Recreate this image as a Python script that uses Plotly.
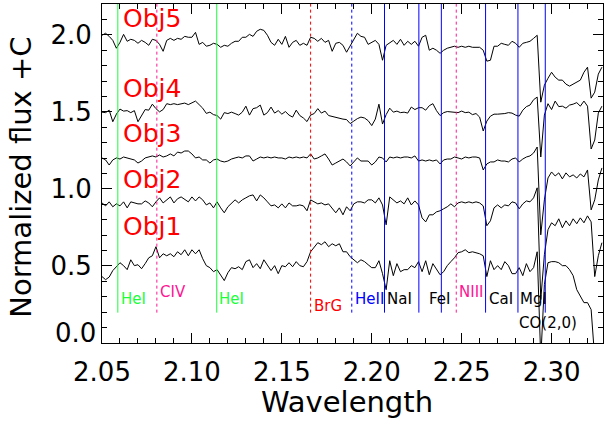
import plotly.graph_objects as go

wavelength = [2.050, 2.052, 2.054, 2.056, 2.058, 2.060, 2.062, 2.064, 2.066, 2.068,
              2.070, 2.072, 2.074, 2.076, 2.078, 2.080, 2.082, 2.084, 2.086, 2.088,
              2.090, 2.092, 2.094, 2.096, 2.098, 2.100, 2.102, 2.104, 2.106, 2.108,
              2.110, 2.112, 2.114, 2.116, 2.118, 2.120, 2.122, 2.124, 2.126, 2.128,
              2.130, 2.132, 2.134, 2.136, 2.138, 2.140, 2.142, 2.144, 2.146, 2.148,
              2.150, 2.152, 2.154, 2.156, 2.158, 2.160, 2.162, 2.164, 2.166, 2.168,
              2.170, 2.172, 2.174, 2.176, 2.178, 2.180, 2.182, 2.184, 2.186, 2.188,
              2.190, 2.192, 2.194, 2.196, 2.198, 2.200, 2.202, 2.204, 2.206, 2.208,
              2.210, 2.212, 2.214, 2.216, 2.218, 2.220, 2.222, 2.224, 2.226, 2.228,
              2.230, 2.232, 2.234, 2.236, 2.238, 2.240, 2.242, 2.244, 2.246, 2.248,
              2.250, 2.252, 2.254, 2.256, 2.258, 2.260, 2.262, 2.264, 2.266, 2.268,
              2.270, 2.272, 2.274, 2.276, 2.278, 2.280, 2.282, 2.284, 2.286, 2.288,
              2.290, 2.292, 2.294, 2.296, 2.298, 2.300, 2.302, 2.304, 2.306, 2.308,
              2.310, 2.312, 2.314, 2.316, 2.318, 2.320, 2.322, 2.324, 2.326, 2.328]

obj1 = [0.431, 0.411, 0.428, 0.470, 0.495, 0.521, 0.502, 0.476, 0.540, 0.502,
        0.508, 0.482, 0.515, 0.553, 0.566, 0.625, 0.553, 0.579, 0.566, 0.579,
        0.560, 0.592, 0.573, 0.605, 0.566, 0.605, 0.579, 0.605, 0.547, 0.502,
        0.489, 0.463, 0.476, 0.437, 0.405, 0.456, 0.489, 0.482, 0.495, 0.476,
        0.528, 0.540, 0.489, 0.515, 0.482, 0.540, 0.508, 0.470, 0.502, 0.450,
        0.502, 0.495, 0.521, 0.495, 0.528, 0.502, 0.495, 0.528, 0.592, 0.625,
        0.651, 0.638, 0.657, 0.625, 0.644, 0.631, 0.644, 0.592, 0.592, 0.560,
        0.540, 0.521, 0.540, 0.528, 0.508, 0.489, 0.489, 0.534, 0.450, 0.346,
        0.534, 0.437, 0.515, 0.463, 0.476, 0.476, 0.502, 0.489, 0.528, 0.463,
        0.534, 0.443, 0.515, 0.476, 0.443, 0.463, 0.502, 0.528, 0.553, 0.586,
        0.592, 0.605, 0.586, 0.592, 0.586, 0.579, 0.566, 0.431, 0.534, 0.476,
        0.502, 0.476, 0.528, 0.502, 0.450, 0.450, 0.489, 0.437, 0.515, 0.463,
        0.489, 0.592, -0.100, 0.379, 0.521, 0.528, 0.528, 0.521, 0.502, 0.502,
        0.476, 0.437, 0.346, 0.301, 0.262, 0.262, 0.217, -0.100, -0.100, -0.100]

obj2 = [0.909, 0.890, 0.916, 0.884, 0.903, 0.890, 0.916, 0.877, 0.916, 0.909,
        0.903, 0.903, 0.922, 0.909, 0.884, 0.916, 0.942, 0.909, 0.929, 0.948,
        0.909, 0.936, 0.948, 0.929, 0.916, 0.948, 0.922, 0.948, 0.929, 0.896,
        0.909, 0.877, 0.916, 0.877, 0.845, 0.884, 0.909, 0.929, 0.909, 0.929,
        0.942, 0.955, 0.961, 0.922, 0.961, 0.942, 0.916, 0.890, 0.896, 0.877,
        0.903, 0.877, 0.909, 0.890, 0.890, 0.896, 0.890, 0.858, 0.929, 0.916,
        0.903, 0.909, 0.896, 0.903, 0.871, 0.845, 0.877, 0.832, 0.884, 0.858,
        0.903, 0.916, 0.916, 0.909, 0.929, 0.929, 0.909, 0.942, 0.896, 0.767,
        0.948, 0.929, 0.909, 0.922, 0.903, 0.942, 0.896, 0.922, 0.896, 0.812,
        0.786, 0.832, 0.832, 0.851, 0.858, 0.871, 0.884, 0.903, 0.884, 0.909,
        0.916, 0.909, 0.916, 0.909, 0.916, 0.909, 0.890, 0.761, 0.793, 0.877,
        0.896, 0.877, 0.896, 0.890, 0.916, 0.909, 0.871, 0.903, 0.922, 0.916,
        0.942, 1.007, 0.282, 0.573, 0.735, 0.780, 0.761, 0.806, 0.748, 0.793,
        0.761, 0.806, 0.774, 0.812, 0.780, 0.825, 0.786, 0.431, 0.566, 0.651]

obj3 = [1.201, 1.188, 1.155, 1.188, 1.201, 1.194, 1.207, 1.201, 1.197, 1.188,
        1.168, 1.181, 1.201, 1.207, 1.214, 1.207, 1.220, 1.207, 1.214, 1.227,
        1.214, 1.239, 1.233, 1.246, 1.246, 1.227, 1.201, 1.207, 1.188, 1.188,
        1.168, 1.188, 1.194, 1.181, 1.175, 1.181, 1.194, 1.201, 1.207, 1.201,
        1.214, 1.214, 1.181, 1.194, 1.207, 1.201, 1.207, 1.201, 1.207, 1.201,
        1.201, 1.194, 1.207, 1.201, 1.207, 1.201, 1.207, 1.201, 1.227, 1.194,
        1.201, 1.214, 1.227, 1.194, 1.155, 1.168, 1.181, 1.194, 1.175, 1.149,
        1.175, 1.201, 1.181, 1.181, 1.181, 1.155, 1.175, 1.207, 1.201, 1.175,
        1.207, 1.201, 1.207, 1.201, 1.207, 1.207, 1.201, 1.214, 1.181, 1.188,
        1.181, 1.188, 1.181, 1.188, 1.162, 1.188, 1.194, 1.194, 1.207, 1.201,
        1.194, 1.207, 1.201, 1.207, 1.207, 1.201, 1.123, 1.162, 1.175, 1.175,
        1.188, 1.181, 1.181, 1.175, 1.194, 1.201, 1.175, 1.194, 1.207, 1.214,
        1.233, 1.272, 0.702, 0.929, 1.071, 1.110, 1.084, 1.104, 1.065, 1.104,
        1.078, 1.091, 1.071, 1.097, 1.078, 1.123, 0.864, 0.929, 1.058, 1.136]

obj4 = [1.498, 1.495, 1.511, 1.436, 1.485, 1.518, 1.505, 1.508, 1.495, 1.508,
        1.436, 1.472, 1.515, 1.511, 1.550, 1.521, 1.500, 1.515, 1.553, 1.547,
        1.553, 1.547, 1.553, 1.557, 1.547, 1.557, 1.570, 1.547, 1.524, 1.490,
        1.498, 1.482, 1.476, 1.453, 1.495, 1.489, 1.498, 1.489, 1.479, 1.498,
        1.537, 1.479, 1.521, 1.527, 1.544, 1.479, 1.495, 1.531, 1.492, 1.508,
        1.485, 1.502, 1.479, 1.466, 1.511, 1.476, 1.460, 1.437, 1.479, 1.489,
        1.521, 1.492, 1.505, 1.476, 1.469, 1.463, 1.456, 1.453, 1.450, 1.424,
        1.440, 1.456, 1.466, 1.460, 1.443, 1.411, 1.453, 1.550, 1.421, 1.482,
        1.524, 1.498, 1.505, 1.495, 1.498, 1.492, 1.531, 1.515, 1.527, 1.527,
        1.511, 1.540, 1.553, 1.508, 1.476, 1.495, 1.502, 1.498, 1.498, 1.495,
        1.505, 1.495, 1.498, 1.482, 1.489, 1.466, 1.376, 1.440, 1.472, 1.485,
        1.485, 1.485, 1.489, 1.495, 1.492, 1.479, 1.472, 1.511, 1.534, 1.544,
        1.579, 1.596, 1.207, 1.479, 1.553, 1.515, 1.570, 1.534, 1.537, 1.524,
        1.544, 1.550, 1.560, 1.537, 1.570, 1.537, 1.259, 1.317, 1.492, 1.537]

obj5 = [1.997, 2.010, 1.990, 1.964, 1.913, 1.951, 2.003, 1.958, 1.971, 1.964,
        1.945, 1.964, 1.951, 1.932, 1.971, 1.964, 1.938, 1.893, 1.964, 1.977,
        1.964, 1.977, 1.971, 1.990, 1.984, 1.984, 2.016, 1.938, 1.951, 1.926,
        1.932, 1.945, 1.938, 1.919, 1.932, 1.926, 1.945, 1.958, 1.958, 1.984,
        1.984, 2.003, 1.990, 2.023, 2.036, 2.029, 1.997, 1.951, 1.932, 1.971,
        1.938, 1.990, 1.919, 1.951, 1.964, 1.932, 1.945, 1.932, 1.984, 1.977,
        1.958, 1.977, 1.951, 1.964, 1.893, 1.945, 1.951, 1.932, 1.887, 1.926,
        1.964, 2.010, 1.990, 1.984, 1.938, 1.951, 1.964, 1.938, 1.835, 1.932,
        1.951, 1.964, 1.938, 1.971, 1.932, 1.958, 1.938, 1.958, 1.926, 1.984,
        1.997, 1.900, 1.913, 1.900, 1.880, 1.900, 1.913, 1.919, 1.926, 1.919,
        1.926, 1.919, 1.926, 1.919, 1.919, 1.919, 1.900, 1.829, 1.835, 1.926,
        1.926, 1.945, 1.938, 1.932, 1.958, 1.945, 1.919, 1.945, 1.951, 1.958,
        1.977, 1.997, 1.563, 1.673, 1.718, 1.757, 1.725, 1.706, 1.706, 1.680,
        1.667, 1.680, 1.693, 1.706, 1.757, 1.790, 1.589, 1.628, 1.745, 1.790]

spectra = [obj1, obj2, obj3, obj4, obj5]
object_names = ["Obj1", "Obj2", "Obj3", "Obj4", "Obj5"]
object_label_x = 2.0607
object_label_y = [0.754, 1.058, 1.362, 1.654, 2.107]

GREEN, PINK, RED, BLUE, BLACK = "#1aff3c", "#ff1493", "#ff0000", "#0000ff", "#000000"

line_wl = [2.0588, 2.0805, 2.1138, 2.1660, 2.1889, 2.2071, 2.2262, 2.2387,
           2.2470, 2.2633, 2.2813, 2.2965]
line_color = [GREEN, PINK, GREEN, RED, BLUE, BLUE, BLUE, BLUE, PINK, BLUE, BLUE, BLUE]
line_dash = ["solid", "dot", "solid", "dot", "dot", "solid", "solid", "solid",
             "dot", "solid", "solid", "solid"]
line_bottom = 0.197
line_top = 2.2

label_text = ["HeI", "CIV", "HeI", "BrG", "HeII", "NaI", "FeI", "NIII", "CaI", "MgI", "CO(2,0)"]
label_x = [2.0592, 2.0809, 2.1142, 2.1665, 2.1894, 2.2071, 2.2305, 2.2472, 2.2639, 2.2811, 2.2806]
label_y = [0.285, 0.329, 0.285, 0.238, 0.285, 0.285, 0.285, 0.329, 0.285, 0.285, 0.131]
label_color = [GREEN, PINK, GREEN, RED, BLUE, BLACK, BLACK, PINK, BLACK, BLACK, BLACK]

x_ticks = [2.05, 2.10, 2.15, 2.20, 2.25, 2.30]
x_ticktext = ["2.05", "2.10", "2.15", "2.20", "2.25", "2.30"]
y_ticks = [0.0, 0.5, 1.0, 1.5, 2.0]
y_ticktext = ["", "0.5", "1.0", "1.5", "2.0"]
# the bottom "0.0" label sits just above the lower frame in the original
zero_label = "0.0"
zero_label_y = 0.062

FONT = "DejaVu Sans"
TICK_SIZE = 26

fig = go.Figure()

for wl, col, dash in zip(line_wl, line_color, line_dash):
    fig.add_shape(type="line", xref="x", yref="y", x0=wl, x1=wl,
                  y0=line_bottom, y1=line_top,
                  line=dict(color=col, width=1, dash=dash))

for name, flux in zip(object_names, spectra):
    fig.add_trace(go.Scatter(x=wavelength, y=flux, mode="lines", name=name,
                             line=dict(color="black", width=1), showlegend=False))

for name, ly in zip(object_names, object_label_y):
    fig.add_annotation(x=object_label_x, y=ly, xref="x", yref="y", text=name,
                       showarrow=False, xanchor="left", yanchor="middle",
                       font=dict(family=FONT, size=25, color="#ff0000"))

for t, lx, ly, c in zip(label_text, label_x, label_y, label_color):
    fig.add_annotation(x=lx, y=ly, xref="x", yref="y", text=t, showarrow=False,
                       xanchor="left", yanchor="middle",
                       font=dict(family=FONT, size=15, color=c))

fig.add_annotation(x=-0.007, y=zero_label_y, xref="paper", yref="y", text=zero_label,
                   showarrow=False, xanchor="right", yanchor="middle",
                   font=dict(family=FONT, size=TICK_SIZE, color="black"))

fig.add_annotation(x=0.49, y=-0.174, xref="paper", yref="paper", text="Wavelength",
                   showarrow=False, xanchor="center", yanchor="middle",
                   font=dict(family=FONT, size=29, color="black"))
fig.add_annotation(x=-0.162, y=0.49, xref="paper", yref="paper", text="Normalized flux +C",
                   showarrow=False, xanchor="center", yanchor="middle", textangle=-90,
                   font=dict(family=FONT, size=29, color="black"))

axis_common = dict(showgrid=False, zeroline=False, showline=True, linecolor="black",
                   linewidth=1, mirror="ticks", ticks="inside", ticklen=10,
                   tickcolor="black", tickwidth=1, automargin=False,
                   tickfont=dict(family=FONT, size=TICK_SIZE, color="black"))

fig.update_xaxes(range=[2.05, 2.3286], tickmode="array", tickvals=x_ticks,
                 ticktext=x_ticktext, ticklabelstandoff=6,
                 minor=dict(dtick=0.01, tick0=2.05, ticks="inside", ticklen=5,
                            tickcolor="black", tickwidth=1, showgrid=False),
                 **axis_common)
fig.update_yaxes(range=[0, 2.2], tickmode="array", tickvals=y_ticks,
                 ticktext=y_ticktext, ticklabelstandoff=4,
                 minor=dict(dtick=0.1, tick0=0, ticks="inside", ticklen=5,
                            tickcolor="black", tickwidth=1, showgrid=False),
                 **axis_common)

fig.update_layout(width=605, height=421, margin=dict(l=102, r=2, t=4, b=78, autoexpand=False),
                  plot_bgcolor="white", paper_bgcolor="white",
                  font=dict(family=FONT, color="black"))

fig.write_html("out.html", config={"displayModeBar": False},
               post_script="document.body.style.margin='0px';")
